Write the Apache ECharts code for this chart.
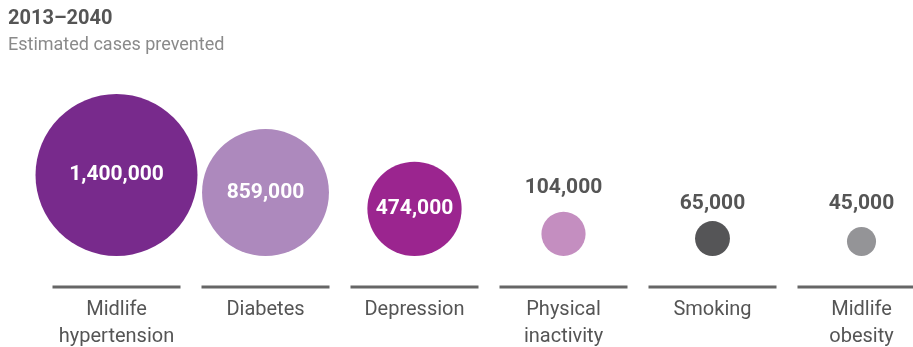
<!DOCTYPE html>
<html>
<head>
<meta charset="utf-8">
<script src="https://cdn.jsdelivr.net/npm/echarts@6/dist/echarts.min.js"></script>
<style>
html,body{margin:0;padding:0;background:#fff;}
#chart{width:913px;height:347px;}
</style>
</head>
<body>
<div id="chart"></div>
<script>
// Data
var titleText = '2013–2040';
var subtitleText = 'Estimated cases prevented';
var categories = ['Midlife\nhypertension', 'Diabetes', 'Depression', 'Physical\ninactivity', 'Smoking', 'Midlife\nobesity'];
var casesPrevented = [1400000, 859000, 474000, 104000, 65000, 45000];
var valueLabels = ['1,400,000', '859,000', '474,000', '104,000', '65,000', '45,000'];
var bubbleColors = ['#782a8c', '#ad89bd', '#9b258f', '#c48ec0', '#555557', '#949497'];

var maxValue = 1400000;
var maxDiameter = 162;
function diameter(v) { return maxDiameter * Math.sqrt(v / maxValue); }

var FONT = 'Roboto, "DejaVu Sans", sans-serif';
var labelDistances = [0, 0, 0, 14, 7, 13];

var bubbleData = casesPrevented.map(function (v, i) {
  var inside = diameter(v) > 80;
  return {
    value: [i, 0],
    symbolSize: diameter(v),
    itemStyle: { color: bubbleColors[i], opacity: 1 },
    label: {
      show: true,
      formatter: valueLabels[i],
      position: inside ? 'inside' : 'top',
      distance: labelDistances[i],
      color: inside ? '#ffffff' : '#555555',
      fontFamily: FONT,
      fontWeight: 'bold',
      fontSize: 21
    }
  };
});

var baseData = categories.map(function (c, i) { return [i, 0]; });

var chart = echarts.init(document.getElementById('chart'), null, { renderer: 'canvas' });
chart.setOption({
  animation: false,
  backgroundColor: '#ffffff',
  title: {
    text: titleText,
    subtext: subtitleText,
    left: 8,
    top: 9,
    padding: 0,
    itemGap: 7,
    textStyle: { fontFamily: FONT, fontSize: 20, fontWeight: 'bold', color: '#555555' },
    subtextStyle: { fontFamily: FONT, fontSize: 18, color: '#8a8a8a' }
  },
  grid: { left: 42, width: 894, top: 60, bottom: 91, containLabel: false, outerBoundsMode: 'none' },
  xAxis: {
    type: 'category',
    data: categories,
    boundaryGap: true,
    axisLine: { show: false },
    axisTick: { show: false },
    splitLine: { show: false },
    axisLabel: {
      margin: 40,
      interval: 0,
      fontFamily: FONT,
      fontSize: 20,
      lineHeight: 27,
      color: '#555555'
    }
  },
  yAxis: { type: 'value', min: 0, max: 1, show: false },
  series: [
    {
      type: 'scatter',
      silent: true,
      symbol: 'rect',
      symbolSize: [128, 3],
      symbolOffset: [0, 31],
      itemStyle: { color: '#666666', opacity: 1 },
      data: baseData,
      z: 1
    },
    {
      type: 'scatter',
      symbol: 'circle',
      symbolOffset: [0, '-50%'],
      data: bubbleData,
      z: 2
    }
  ]
});
</script>
</body>
</html>
